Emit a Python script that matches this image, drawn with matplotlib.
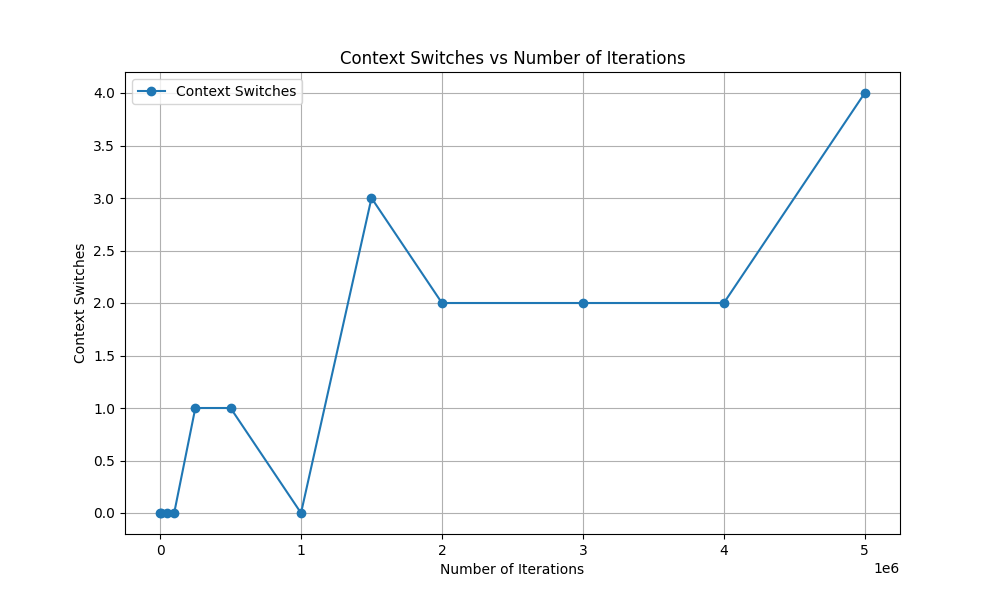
import matplotlib
matplotlib.use("Agg")
import matplotlib.pyplot as plt

iterations = [1000, 10000, 50000, 100000, 250000, 500000, 1000000, 1500000, 2000000, 3000000, 4000000, 5000000]
switches = [0, 0, 0, 0, 1, 1, 0, 3, 2, 2, 2, 4]

fig, ax = plt.subplots(figsize=(10, 6), dpi=100)
ax.plot(iterations, switches, marker='o', label='Context Switches')
ax.set_title('Context Switches vs Number of Iterations')
ax.set_xlabel('Number of Iterations')
ax.set_ylabel('Context Switches')
ax.grid(True)
ax.legend(loc='upper left')
fig.savefig('out.png')
